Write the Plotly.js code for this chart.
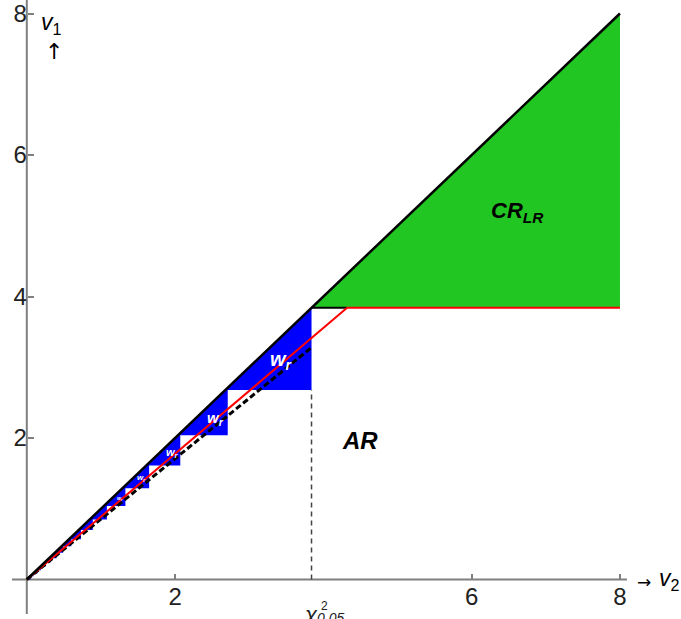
<!DOCTYPE html>
<html>
<head>
<meta charset="utf-8">
<script src="https://cdn.plot.ly/plotly-3.0.1.min.js"></script>
<style>
body{margin:0;padding:0;background:#fff;}
#plot{width:681px;height:619px;}
</style>
</head>
<body>
<div id="plot"></div>
<script>
// critical value and the lines through the origin
var chi = 3.84;
var diagX = [0, 8];
var diagY = [0, 8];
var redX = [0, 4.32, 8];
var redY = [0, 3.84, 3.84];
var dashX = [0, 3.84];
var dashY = [0, 3.28];
var greenX = [3.84, 8, 8];
var greenY = [3.84, 8, 3.84];

// staircase of the w_r region: left edges and bottoms of the steps
var stepLeft = [3.84, 2.71, 2.07, 1.65, 1.33, 1.08, 0.89, 0.73, 0.60, 0.49, 0.40, 0.32, 0.25, 0.19, 0.14, 0.09, 0.05, 0];
var stepBottom = [2.68, 2.04, 1.61, 1.29, 1.04, 0.85, 0.70, 0.57, 0.47, 0.38, 0.30, 0.24, 0.18, 0.13, 0.08, 0.045, 0];

// w_r labels
var wrX = [3.43, 2.54, 1.96, 1.55, 1.26];
var wrY = [3.09, 2.27, 1.79, 1.43, 1.15];
var wrSize = [20, 15, 11, 8, 5];

var xTicks = [2, 6, 8];
var yTicks = [2, 4, 6, 8];

function stairs(){
  var xs = [0, stepLeft[0]];
  var ys = [0, stepLeft[0]];
  for (var i = 0; i < stepBottom.length; i++) {
    xs.push(stepLeft[i]);
    ys.push(stepBottom[i]);
    xs.push(stepLeft[i+1]);
    ys.push(stepBottom[i]);
  }
  return {x: xs, y: ys};
}

function plt(){
  var st = stairs();
  var green = {x: greenX, y: greenY, fill: 'toself', fillcolor: '#22c622', mode: 'lines', line: {width: 0}, hoverinfo: 'skip'};
  var blue = {x: st.x, y: st.y, fill: 'toself', fillcolor: '#0000ff', mode: 'lines', line: {width: 0}, hoverinfo: 'skip'};
  var vline = {x: [chi, chi], y: [0, stepBottom[0]], mode: 'lines', line: {color: '#444', width: 1.5, dash: '5px,4px'}};
  var dashed = {x: dashX, y: dashY, mode: 'lines', line: {color: '#000', width: 3, dash: '6px,3px'}};
  var black = {x: [chi, redX[1]], y: [chi, chi], mode: 'lines', line: {color: '#000', width: 2}};
  var red = {x: redX, y: redY, mode: 'lines', line: {color: '#ff0000', width: 2}};
  var diag = {x: diagX, y: diagY, mode: 'lines', line: {color: '#000', width: 2.5}};

  var f = 'Liberation Sans';
  var ann = [];
  for (var i = 0; i < wrX.length; i++) {
    ann.push({x: wrX[i], y: wrY[i], text: '<b><i>w<sub>r</sub></i></b>', showarrow: false,
      font: {size: wrSize[i], color: '#fff', family: f}});
  }
  ann.push({x: 4.49, y: 1.97, text: '<b><i>AR</i></b>', showarrow: false, font: {size: 24, color: '#000', family: f}});
  ann.push({x: 6.62, y: 5.19, text: '<b><i>CR<sub>LR</sub></i></b>', showarrow: false, font: {size: 22, color: '#000', family: f}});
  ann.push({x: 0.33, y: 7.86, text: '<i>v</i><sub>1</sub>', showarrow: false, font: {size: 23, color: '#000', family: f}});
  ann.push({x: 0.37, y: 7.47, text: '↑', showarrow: false, font: {size: 22, color: '#000', family: 'DejaVu Sans'}});
  ann.push({x: 8.33, y: -0.03, text: '→', showarrow: false, font: {size: 17, color: '#000', family: 'DejaVu Sans'}});
  ann.push({x: 8.5, y: 0.0, xanchor: 'left', text: '<i>v</i><sub>2</sub>', showarrow: false, font: {size: 23, color: '#000', family: f}});
  ann.push({x: 3.82, y: -0.5, text: '<i>χ</i>', showarrow: false, font: {size: 22, color: '#222', family: f}});
  ann.push({x: 4.02, y: -0.37, text: '2', showarrow: false, font: {size: 12, color: '#222', family: f}});
  ann.push({x: 4.1, y: -0.55, text: '<i>0.05</i>', showarrow: false, font: {size: 14, color: '#222', family: f}});

  var layout = {
    width: 681, height: 619,
    margin: {l: 0, r: 0, t: 0, b: 0},
    paper_bgcolor: '#fff', plot_bgcolor: '#fff',
    showlegend: false,
    xaxis: {range: [-0.3614, 8.823], anchor: 'free', position: 0.0638, showgrid: false, zeroline: false, showline: false,
      tickvals: xTicks, ticks: 'inside', ticklen: 6, tickwidth: 2, tickcolor: '#7f7f7f', ticklabeloverflow: 'allow',
      tickfont: {size: 24, color: '#222', family: f}},
    yaxis: {range: [-0.558, 8.191], anchor: 'free', position: 0.0394, showgrid: false, zeroline: false, showline: false,
      tickvals: yTicks, ticks: 'inside', ticklen: 6, tickwidth: 2, tickcolor: '#7f7f7f', ticklabeloverflow: 'allow',
      tickfont: {size: 24, color: '#222', family: f}},
    shapes: [
      {type: 'line', xref: 'x', yref: 'y', x0: -0.2, y0: 0, x1: 8.094, y1: 0, line: {color: '#7f7f7f', width: 2}, layer: 'below'},
      {type: 'line', xref: 'x', yref: 'y', x0: 0, y0: -0.488, x1: 0, y1: 8.19, line: {color: '#7f7f7f', width: 2}, layer: 'below'}
    ],
    annotations: ann
  };
  Plotly.newPlot('plot', [green, blue, vline, dashed, black, red, diag], layout, {displayModeBar: false, staticPlot: true});
}
plt();
</script>
</body>
</html>
